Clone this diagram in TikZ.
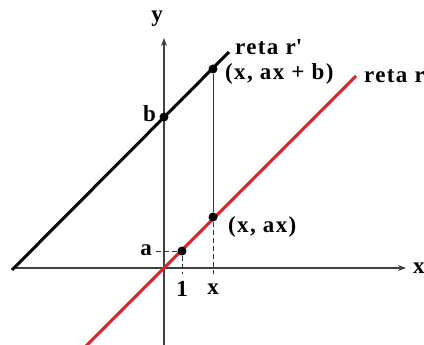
\documentclass[tikz,border=0pt]{standalone}
\usepackage{fontspec}
\setmainfont{Liberation Serif}
\newfontfamily\lblfont[LetterSpace=6]{Liberation Serif}
\usetikzlibrary{arrows.meta}
\definecolor{rline}{RGB}{235,30,35}
\begin{document}
\begin{tikzpicture}[x=1pt,y=-1pt,
  lbl/.style={font=\lblfont\fontsize{23}{25}\selectfont\bfseries, inner sep=0pt},
  axis/.style={line width=1.1pt, draw=black!75, -{Stealth[length=8pt,width=6pt]}},
  thick line/.style={line width=3pt},
  dot/.style={circle, fill=black, inner sep=0pt, minimum size=9pt},
  guide/.style={line width=0.9pt, draw=black!80},
  dguide/.style={line width=0.9pt, draw=black!80, dash pattern=on 5pt off 3pt}]
\useasboundingbox (0,0) rectangle (424,345);
% axes
\coordinate (xl) at (14,268);
\coordinate (xr) at (406,268);
\coordinate (yb) at (164,345);
\coordinate (yt) at (164,38);
\draw[axis] (xl) -- (xr);
\draw[axis] (yb) -- (yt);
% lines
\coordinate (r1) at (85,347);
\coordinate (r2) at (356,76);
\coordinate (s1) at (12,270);
\coordinate (s2) at (229,52);
\draw[thick line, draw=rline] (r1) -- (r2);
\draw[thick line, draw=black] (s1) -- (s2);
% points
\node[dot] (B) at (164,117) {};
\node[dot] (P) at (213,69) {};
\node[dot] (Q) at (213,217) {};
\node[dot] (A) at (182,251) {};
\coordinate (xt) at (213,274);
\coordinate (ot) at (182,274);
\coordinate (al) at (155,251);
\draw[guide] (P) -- (Q);
\draw[dguide] (Q) -- (xt);
\draw[dguide] (A) -- (ot);
\draw[dguide] (A) -- (al);
% labels
\node[lbl] (ly) at (157,19) {y};
\node[lbl, anchor=west] (lx) at (413,268) {x};
\node[lbl, anchor=east] (lb) at (156,114) {b};
\node[lbl, anchor=east] (la) at (152,250) {a};
\node[lbl] (l1) at (182,289) {1};
\node[lbl] (lxx) at (213,289) {x};
\node[lbl, anchor=west] (lrp) at (235,47) {reta r\textquotesingle};
\node[lbl, anchor=west] (lpx) at (225,74) {(x, ax + b)};
\node[lbl, anchor=west] (lr) at (364,76) {reta r};
\node[lbl, anchor=west] (lqx) at (228,227) {(x, ax)};
\end{tikzpicture}
\end{document}
